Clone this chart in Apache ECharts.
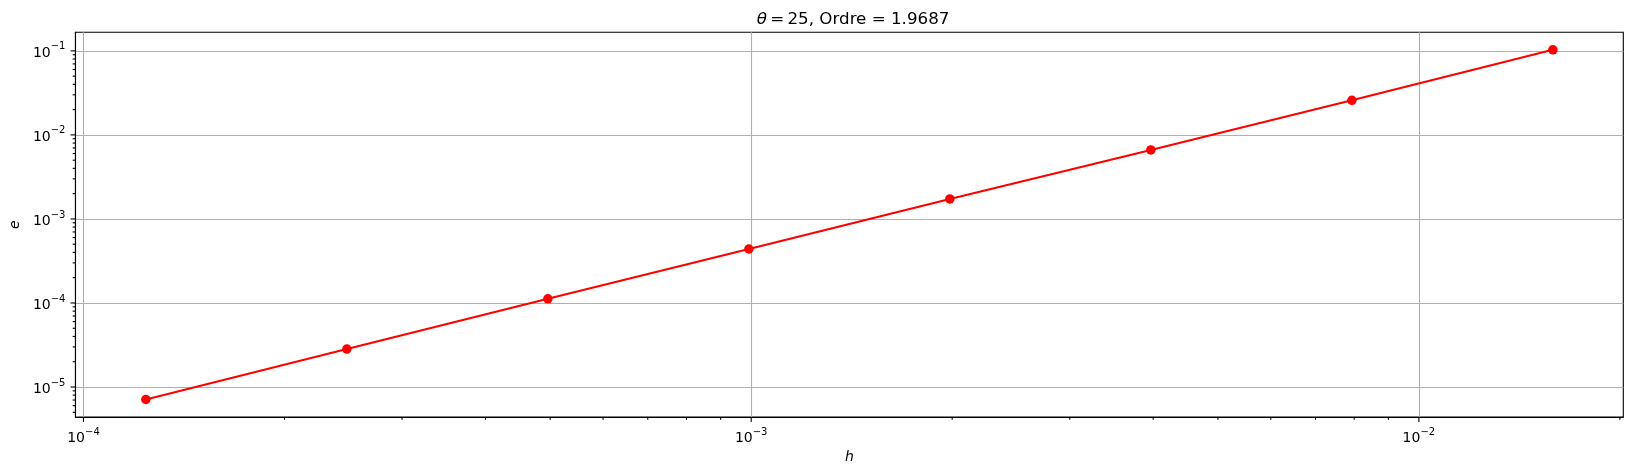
<!DOCTYPE html>
<html>
<head>
<meta charset="utf-8">
<script src="https://cdn.jsdelivr.net/npm/echarts@6/dist/echarts.min.js"></script>
<style>
  html, body { margin: 0; padding: 0; background: #fff; }
  #chart { width: 1632px; height: 476px; }
</style>
</head>
<body>
<div id="chart"></div>
<script>
// ---- data ----
const H = [1.24e-4, 2.48e-4, 4.96e-4, 9.92e-4, 1.984e-3, 3.968e-3, 7.937e-3, 1.5873e-2];
const E = [7.1e-6, 2.83e-5, 1.12e-4, 4.39e-4, 1.73e-3, 6.63e-3, 2.58e-2, 1.03e-1];
const TITLE_PREFIX = 'θ';
const TITLE_REST = '\u2009=\u200925, Ordre = 1.9687';
const X_NAME = 'h';
const Y_NAME = 'e';
// axis ranges (log axes, matplotlib 5% margins)
const X_MIN = 9.727e-5, X_MAX = 2.0236e-2;
const Y_MIN = 4.397e-6, Y_MAX = 0.1663;
// tick values
const X_MAJOR = [1e-4, 1e-3, 1e-2];
const Y_MAJOR = [1e-5, 1e-4, 1e-3, 1e-2, 1e-1];
const MANTISSAS = [2, 3, 4, 5, 6, 7, 8, 9];
const X_DECADES = [1e-4, 1e-3, 1e-2];
const Y_DECADES = [1e-6, 1e-5, 1e-4, 1e-3, 1e-2, 1e-1];

function minorTicks(decades, lo, hi) {
  const out = [];
  decades.forEach(d => MANTISSAS.forEach(m => {
    const v = m * d;
    if (v > lo && v < hi) out.push(v);
  }));
  return out;
}
const X_MINOR = minorTicks(X_DECADES, X_MIN, X_MAX);
const Y_MINOR = minorTicks(Y_DECADES, Y_MIN, Y_MAX);

// tick items: [x, y, axis(0=x,1=y), length]
const tickData = [];
X_MAJOR.forEach(v => tickData.push([v, Y_MIN, 0, 4.9]));
X_MINOR.forEach(v => tickData.push([v, Y_MIN, 0, 2.8]));
Y_MAJOR.forEach(v => tickData.push([X_MIN, v, 1, 4.9]));
Y_MINOR.forEach(v => tickData.push([X_MIN, v, 1, 2.8]));

function powLabel(value) {
  const e = Math.log10(value);
  const r = Math.round(e);
  if (Math.abs(e - r) > 1e-6) return '';
  return '{b|10}{s|' + (r < 0 ? '\u2212' : '') + Math.abs(r) + '}';
}
const richLabel = {
  b: { fontSize: 14, fontFamily: 'DejaVu Sans', color: '#000', verticalAlign: 'bottom', lineHeight: 18 },
  s: { fontSize: 10, fontFamily: 'DejaVu Sans', color: '#000', verticalAlign: 'top', lineHeight: 18, padding: [0, 0, 6, 0] }
};

const chart = echarts.init(document.getElementById('chart'), null, { renderer: 'canvas' });
chart.setOption({
  animation: false,
  backgroundColor: '#fff',
  title: {
    text: '{i|' + TITLE_PREFIX + '}{n|' + TITLE_REST + '}',
    left: 848, top: 6, textAlign: 'center',
    textStyle: {
      fontWeight: 'normal',
      rich: {
        i: { fontSize: 16.7, fontFamily: 'DejaVu Sans', fontStyle: 'italic', fontWeight: 'normal', color: '#000' },
        n: { fontSize: 16.7, fontFamily: 'DejaVu Sans', fontWeight: 'normal', color: '#000' }
      }
    }
  },
  grid: {
    left: 73.3, top: 32.3, right: 8.7, bottom: 59,
    show: true, borderColor: '#000', borderWidth: 1.1, backgroundColor: 'transparent'
  },
  xAxis: {
    type: 'log', logBase: 10, min: X_MIN, max: X_MAX,
    name: X_NAME, nameLocation: 'middle', nameGap: 33,
    nameTextStyle: { fontSize: 14, fontFamily: 'DejaVu Sans', fontStyle: 'italic', color: '#000' },
    axisLine: { show: true, lineStyle: { color: '#000', width: 1.1 } },
    axisTick: { show: false },
    minorTick: { show: false },
    axisLabel: { formatter: powLabel, rich: richLabel, margin: 10, showMinLabel: false, showMaxLabel: false },
    splitLine: { show: true, showMinLine: false, showMaxLine: false, lineStyle: { color: '#b0b0b0', width: 1.1 } }
  },
  yAxis: {
    type: 'log', logBase: 10, min: Y_MIN, max: Y_MAX,
    name: Y_NAME, nameLocation: 'middle', nameGap: 53, nameRotate: 90,
    nameTextStyle: { fontSize: 14, fontFamily: 'DejaVu Sans', fontStyle: 'italic', color: '#000' },
    axisLine: { show: true, lineStyle: { color: '#000', width: 1.1 } },
    axisTick: { show: false },
    minorTick: { show: false },
    axisLabel: { formatter: powLabel, rich: richLabel, margin: 10, showMinLabel: false, showMaxLabel: false },
    splitLine: { show: true, showMinLine: false, showMaxLine: false, lineStyle: { color: '#b0b0b0', width: 1.1 } }
  },
  series: [
    {
      type: 'line',
      data: H.map((h, i) => [h, E[i]]),
      symbol: 'circle', symbolSize: 9.5, showSymbol: true,
      lineStyle: { color: '#ff0000', width: 2.1 },
      itemStyle: { color: '#ff0000' },
      z: 5
    },
    {
      type: 'custom',
      clip: false,
      silent: true,
      data: tickData,
      encode: { x: 0, y: 1 },
      renderItem: function (params, api) {
        const p = api.coord([api.value(0), api.value(1)]);
        const axis = api.value(2), len = api.value(3);
        let shape;
        if (axis === 0) shape = { x1: p[0], y1: p[1], x2: p[0], y2: p[1] + len };
        else shape = { x1: p[0], y1: p[1], x2: p[0] - len, y2: p[1] };
        return { type: 'line', shape: shape, style: { stroke: '#000', lineWidth: 1.1 } };
      },
      z: 6
    }
  ]
});
</script>
</body>
</html>
